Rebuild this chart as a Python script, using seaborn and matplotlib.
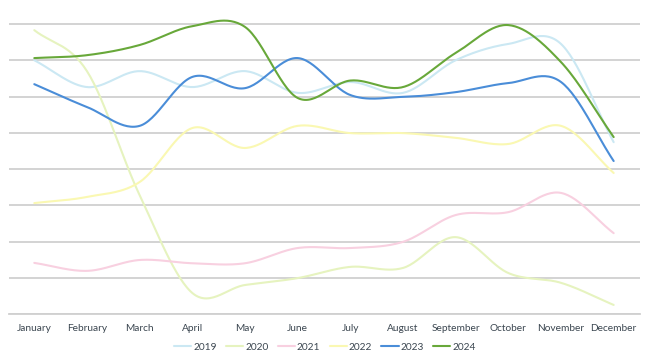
import numpy as np
import pandas as pd
import matplotlib
matplotlib.use("Agg")
import matplotlib.pyplot as plt
import seaborn as sns

months = ["January", "February", "March", "April", "May", "June", "July",
          "August", "September", "October", "November", "December"]
years = ["2019", "2020", "2021", "2022", "2023", "2024"]

v2019 = [70.0, 62.6, 67.0, 62.6, 67.0, 61.0, 64.0, 61.0, 70.0, 74.5, 74.5, 47.4]
v2020 = [78.3, 67.0, 32.8, 5.8, 8.0, 9.9, 13.0, 12.7, 21.2, 11.3, 8.6, 2.5]
v2021 = [14.1, 11.9, 14.9, 14.0, 14.0, 18.2, 18.2, 19.9, 27.3, 28.1, 33.4, 22.3]
v2022 = [30.6, 32.3, 36.4, 51.3, 45.8, 51.9, 49.9, 49.9, 48.6, 46.9, 51.9, 38.9]
v2023 = [63.4, 57.1, 51.9, 65.4, 62.3, 70.6, 60.4, 59.9, 61.2, 63.7, 64.0, 42.2]
v2024 = [70.6, 71.4, 74.2, 79.4, 79.2, 59.6, 64.4, 62.6, 72.0, 79.7, 69.5, 48.8]

colors = ["#cbe8f3", "#e6f3bf", "#f8d0e0", "#faf8b2", "#4a8dd8", "#68a83a"]


def smooth(y, n=30):
    # catmull-rom style smoothing like a spreadsheet "smoothed line"
    y = np.asarray(y, dtype=float)
    x = np.arange(len(y), dtype=float)
    px = np.concatenate([[2 * x[0] - x[1]], x, [2 * x[-1] - x[-2]]])
    py = np.concatenate([[2 * y[0] - y[1]], y, [2 * y[-1] - y[-2]]])
    xs, ys = [], []
    t = np.linspace(0, 1, n, endpoint=False)
    for i in range(1, len(px) - 2):
        p0, p1, p2, p3 = py[i - 1], py[i], py[i + 1], py[i + 2]
        q0, q1, q2, q3 = px[i - 1], px[i], px[i + 1], px[i + 2]
        f = lambda a0, a1, a2, a3: 0.5 * ((2 * a1) + (-a0 + a2) * t
                                          + (2 * a0 - 5 * a1 + 4 * a2 - a3) * t ** 2
                                          + (-a0 + 3 * a1 - 3 * a2 + a3) * t ** 3)
        xs.append(f(q0, q1, q2, q3))
        ys.append(f(p0, p1, p2, p3))
    xs.append([x[-1]])
    ys.append([y[-1]])
    return np.concatenate(xs), np.concatenate(ys)


sns.set_style("white")
plt.rcParams['font.family'] = ['Lato', 'DejaVu Sans']

fig = plt.figure(figsize=(6.5, 3.59), dpi=100)
ax = fig.add_axes([9 / 650, 45 / 359, 631 / 650, 311.75 / 359])

series = [v2019, v2020, v2021, v2022, v2023, v2024]
for yr, vals, c in zip(years, series, colors):
    sx, sy = smooth(vals)
    sns.lineplot(x=sx, y=sy, ax=ax, color=c, linewidth=1.5, label=yr,
                 sort=False, estimator=None)

ax.set_xlim(-0.48, 11.5)
ax.set_ylim(0, 86)
ax.set_yticks(np.arange(0, 81, 10))
ax.set_yticklabels([])
ax.yaxis.grid(True, color="#d0d0d0", linewidth=1.3)
ax.set_axisbelow(True)
ax.set_xticks(range(12))
ax.set_xticklabels(months, fontsize=7.3, color="#3b4650")
ax.tick_params(axis="x", length=0, pad=7)
ax.tick_params(axis="y", length=0)
for s in ["top", "right", "left"]:
    ax.spines[s].set_visible(False)
ax.spines["bottom"].set_color("#d0d0d0")
ax.spines["bottom"].set_linewidth(1.3)

ax.get_legend().remove()
h, l = ax.get_legend_handles_labels()
fig.legend(h, l, loc="center", bbox_to_anchor=(0.5, 1 - 347 / 359), ncol=6,
           frameon=False, fontsize=7.3, handlelength=1.7, handletextpad=0.2,
           columnspacing=0.9, labelcolor="#3b4650")

fig.savefig("out.png", dpi=100)
